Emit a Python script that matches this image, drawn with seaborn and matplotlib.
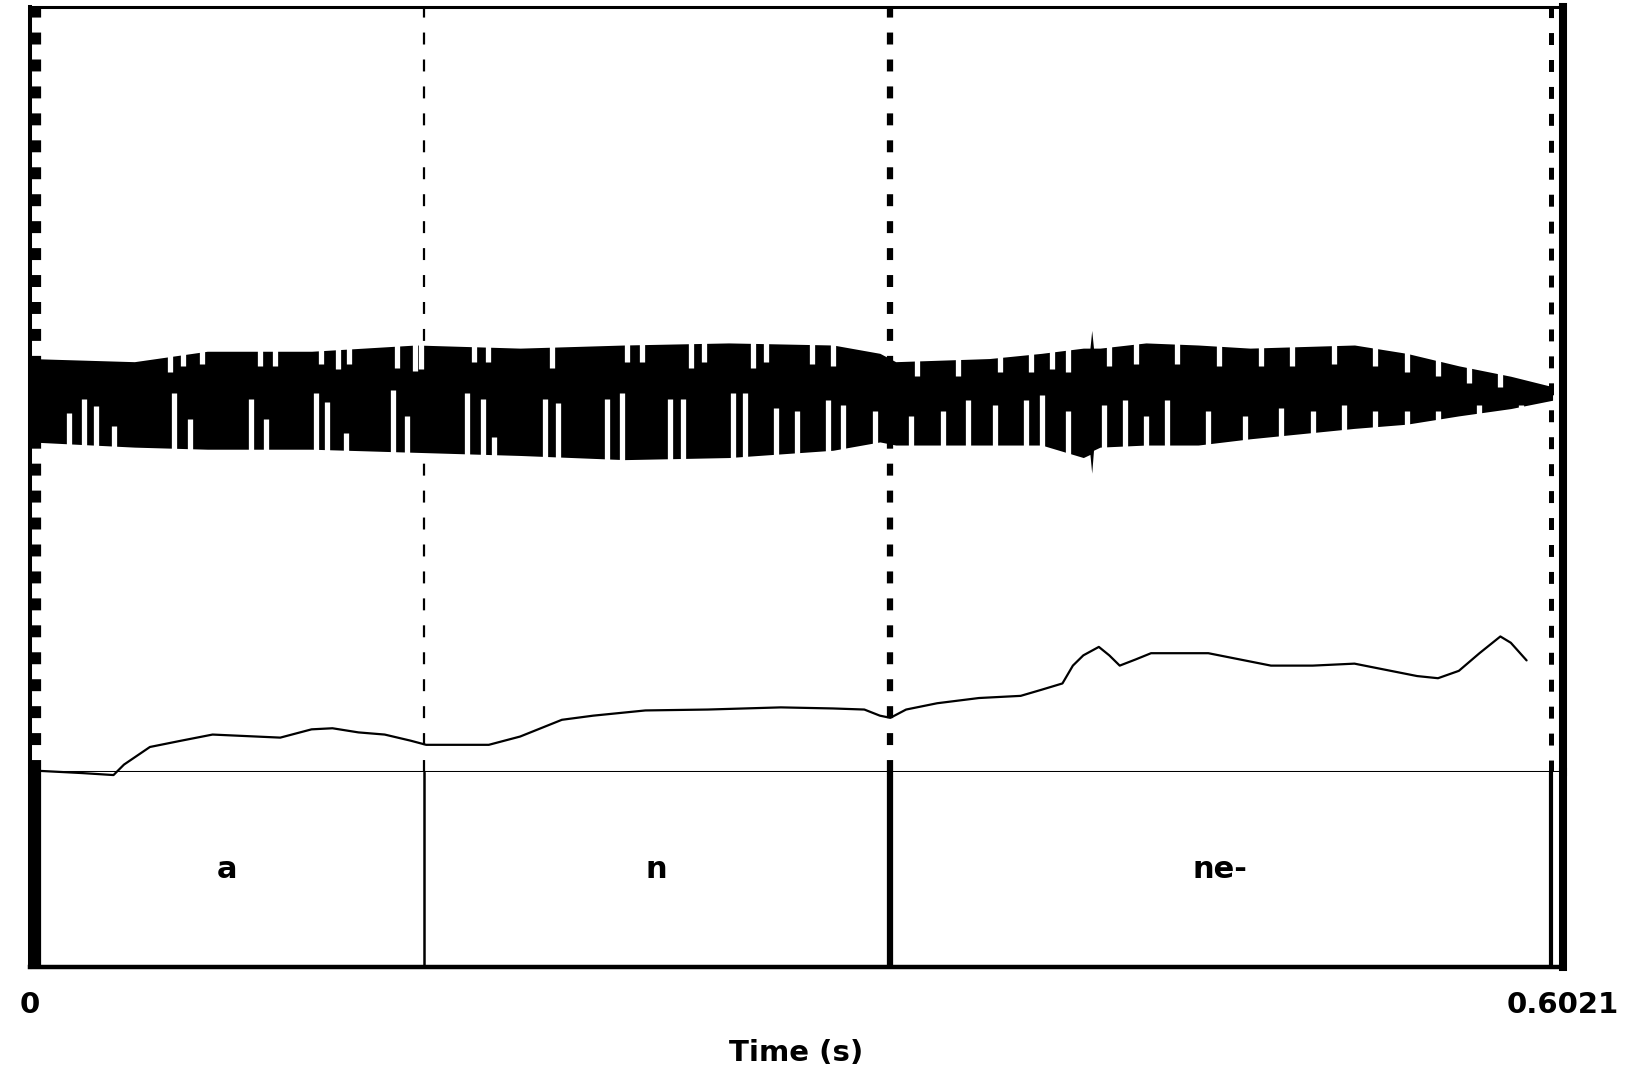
import numpy as np
import pandas as pd
import matplotlib
matplotlib.use("Agg")
import matplotlib.pyplot as plt
import seaborn as sns

# ---- data -------------------------------------------------------------
DURATION = 0.6021                      # seconds
tick_labels = ["0", "0.6021"]
axis_label = "Time (s)"

boundary_times = [0.0, 0.1546, 0.3377, 0.5973]
segment_labels = ["a", "n", "ne-"]

# waveform envelope (s, Pa)
env_time = [0.0, 0.0410, 0.0696, 0.1106, 0.1516, 0.1925, 0.2335, 0.2744,
            0.3154, 0.3338, 0.3400, 0.3768, 0.3973, 0.4137, 0.4163, 0.4170,
            0.4177, 0.4203, 0.4383, 0.4588, 0.4792, 0.5202, 0.5407, 0.5612,
            0.5816, 0.5980]
env_upper = [0.100, 0.0925, 0.1175, 0.1175, 0.1325, 0.125, 0.1325, 0.1375,
             0.1325, 0.1125, 0.0925, 0.100, 0.1125, 0.125, 0.125, 0.1675,
             0.125, 0.125, 0.1375, 0.1325, 0.125, 0.1325, 0.1125, 0.0825,
             0.0575, 0.0325]
env_lower = [-0.100, -0.1125, -0.1175, -0.1175, -0.125, -0.1325, -0.1425, -0.1375,
             -0.120, -0.100, -0.1075, -0.1075, -0.1075, -0.1375, -0.130, -0.175,
             -0.120, -0.1125, -0.1075, -0.1075, -0.0925, -0.0675, -0.0575, -0.0375,
             -0.020, 0.0]

# quiet columns between glottal pulses (lower half: top of the gap)
low_gap_time = [0.0152, 0.0213, 0.0258, 0.0328, 0.0565, 0.0627, 0.0868, 0.0926,
                0.1122, 0.1167, 0.1241, 0.1425, 0.1479, 0.1716, 0.1778, 0.1823,
                0.2023, 0.2073, 0.2265, 0.2327, 0.2515, 0.2564, 0.2761, 0.2810,
                0.2929, 0.3011, 0.3133, 0.3195, 0.3318, 0.3461, 0.3584, 0.3686,
                0.3789, 0.3912, 0.3973, 0.4076, 0.4219, 0.4301, 0.4383, 0.4465,
                0.4628, 0.4772, 0.4915, 0.5038, 0.5161, 0.5284, 0.5407, 0.5530,
                0.5693, 0.5857]
low_gap_top = [-0.030, 0.0025, -0.015, -0.0625, 0.0175, -0.045, 0.0025, -0.045,
               0.0175, -0.005, -0.0775, 0.025, -0.0375, 0.0175, 0.0025, -0.0875,
               0.0025, -0.0075, 0.0025, 0.0175, 0.0025, 0.0025, 0.0175, 0.0175,
               -0.0175, -0.025, 0.0, -0.0125, -0.025, -0.0375, -0.025, 0.0,
               -0.0125, 0.0, 0.0125, -0.025, -0.0125, 0.0, -0.0375, 0.0,
               -0.025, -0.0375, -0.0175, -0.025, -0.0125, -0.025, -0.025, -0.025,
               -0.0125, -0.0125]

# upper half: bottom of the gap
up_gap_time = [0.0549, 0.0602, 0.0676, 0.0905, 0.0963, 0.1143, 0.1208, 0.1253,
               0.1442, 0.1511, 0.1536, 0.1745, 0.1798, 0.2052, 0.2343, 0.2404,
               0.2597, 0.2646, 0.2839, 0.2892, 0.3072, 0.3154, 0.3482, 0.3645,
               0.3809, 0.3932, 0.4014, 0.4076, 0.4239, 0.4342, 0.4506, 0.4669,
               0.4833, 0.4956, 0.5120, 0.5284, 0.5407, 0.5530, 0.5652, 0.5775]
up_gap_bottom = [0.0675, 0.0825, 0.0875, 0.0825, 0.0825, 0.0875, 0.075, 0.0875,
                 0.0775, 0.070, 0.075, 0.0925, 0.0925, 0.0775, 0.0925, 0.0925,
                 0.0775, 0.0925, 0.0775, 0.0925, 0.0875, 0.0825, 0.0575, 0.0575,
                 0.0675, 0.0675, 0.075, 0.0675, 0.0825, 0.0875, 0.0875, 0.0825,
                 0.0825, 0.0825, 0.0875, 0.0825, 0.0675, 0.0575, 0.0425, 0.0325]

# pitch contour (s, Hz)
pitch_time = [0.0041, 0.0205, 0.0328, 0.0369, 0.0471, 0.0594, 0.0717, 0.0983,
              0.1106, 0.1188, 0.1290, 0.1393, 0.1495, 0.1556, 0.1802, 0.1925,
              0.2089, 0.2212, 0.2417, 0.2662, 0.2949, 0.3154, 0.3277, 0.3338,
              0.3379, 0.3441, 0.3563, 0.3727, 0.3891, 0.3973, 0.4055, 0.4096,
              0.4137, 0.4198, 0.4239, 0.4280, 0.4342, 0.4403, 0.4628, 0.4792,
              0.4874, 0.5038, 0.5202, 0.5284, 0.5448, 0.5530, 0.5612, 0.5693,
              0.5775, 0.5816, 0.5878]
pitch_hz = [75.6, 74.4, 73.3, 79.1, 88.9, 92.4, 95.8, 94.1,
            98.7, 99.3, 97.0, 95.8, 92.4, 90.1, 90.1, 94.7,
            104.0, 106.3, 109.2, 109.7, 110.9, 110.3, 109.7, 106.3,
            105.1, 109.7, 113.2, 116.1, 117.3, 120.7, 124.2, 134.1,
            139.8, 144.5, 139.8, 134.1, 137.5, 141.0, 141.0, 136.4,
            134.1, 134.1, 135.2, 132.9, 128.3, 127.1, 131.2, 141.0,
            150.3, 146.8, 137.0]

AMP_LIM = (-0.8918, 0.9433)
PITCH_LIM = (75, 500)

# ---- style ------------------------------------------------------------
sns.set_theme(style="white")
plt.rcParams["font.family"] = ["DejaVu Sans"]
plt.rcParams["font.weight"] = "bold"
plt.rcParams["lines.scale_dashes"] = False
plt.rcParams["text.color"] = "black"
plt.rcParams["axes.labelcolor"] = "black"

W, H, DPI = 1632, 1073, 100
fig = plt.figure(figsize=(W / DPI, H / DPI), dpi=DPI)
fig.patch.set_facecolor("white")

left, right = 30 / W, 1563 / W
y_top, y_mid, y_bot = 1 - 7 / H, 1 - 772 / H, 1 - 967 / H
ax = fig.add_axes([left, y_mid, right - left, y_top - y_mid])
tier = fig.add_axes([left, y_bot, right - left, y_mid - y_bot])

dash = (0, (8.6, 10.8))
bw_dash = [16, 1.6, 4.5, 3.6]      # widths of the dashed boundaries (pt)
bw_solid = [16, 1.8, 4.5, 3.0]     # widths of the tier boundaries (pt)

# ---- signal panel -----------------------------------------------------
for t, lw in zip(boundary_times, bw_dash):
    ax.axvline(t, color="black", lw=lw, ls=dash, zorder=1)

ax.fill_between(env_time, env_lower, env_upper, color="black", lw=0, zorder=2)

low_edge = np.interp(low_gap_time, env_time, env_lower) - 0.01
ax.vlines(low_gap_time, low_edge, low_gap_top, color="white", lw=3.8, zorder=3)
up_edge = np.interp(up_gap_time, env_time, env_upper) + 0.01
ax.vlines(up_gap_time, up_gap_bottom, up_edge, color="white", lw=3.8, zorder=3)

ax.set_xlim(0, DURATION)
ax.set_ylim(*AMP_LIM)
ax.set_xticks([])
ax.set_yticks([])

pax = ax.twinx()
pitch_df = pd.DataFrame({"time": pitch_time, "f0": pitch_hz})
sns.lineplot(data=pitch_df, x="time", y="f0", ax=pax, color="black",
             lw=1.6, sort=False, zorder=4, clip_on=False)
pax.set_ylim(*PITCH_LIM)
pax.set_xlim(0, DURATION)
pax.set_yticks([])
pax.set_ylabel("")
pax.set_xlabel("")
for s in pax.spines.values():
    s.set_visible(False)

ax.spines["top"].set_linewidth(2.2)
ax.spines["left"].set_linewidth(2.9)
ax.spines["right"].set_linewidth(5.8)
ax.spines["bottom"].set_linewidth(2.2)
for s in ax.spines.values():
    s.set_color("black")

# ---- text tier --------------------------------------------------------
for t, lw in zip(boundary_times, bw_solid):
    tier.axvline(t, color="black", lw=lw, zorder=1)
mids = [(a + b) / 2 for a, b in zip(boundary_times[:-1], boundary_times[1:])]
for m, lab in zip(mids, segment_labels):
    tier.text(m, 0.5, lab, ha="center", va="center", fontsize=22,
              fontweight="bold", color="black")

tier.set_xlim(0, DURATION)
tier.set_ylim(0, 1)
tier.set_yticks([])
tier.set_xticks([0, DURATION])
tier.set_xticklabels(tick_labels, fontsize=21, fontweight="bold")
tier.tick_params(axis="x", length=0, pad=17, colors="black")
tier.set_xlabel(axis_label, fontsize=21, fontweight="bold", labelpad=15,
                color="black")
tier.spines["top"].set_visible(False)
tier.spines["left"].set_linewidth(2.9)
tier.spines["right"].set_linewidth(5.8)
tier.spines["bottom"].set_linewidth(3.2)
for s in tier.spines.values():
    s.set_color("black")

fig.savefig("out.png", dpi=DPI, facecolor="white")
